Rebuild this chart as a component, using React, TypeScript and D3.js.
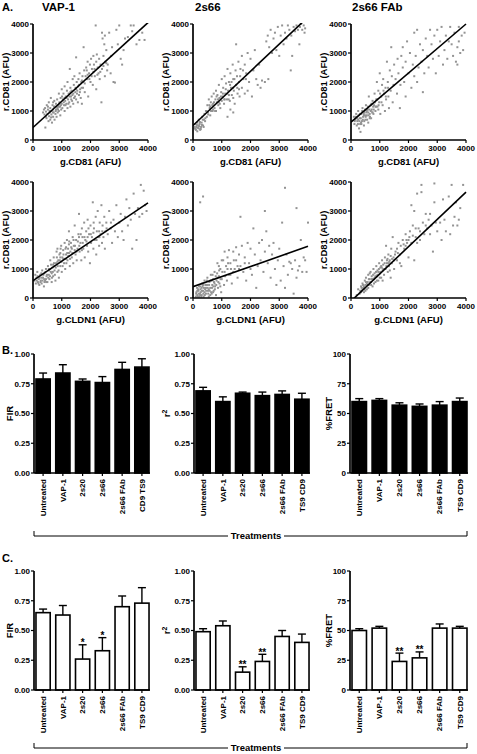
import React from 'react';
import * as d3 from 'd3';

const FONT = '"Liberation Sans", Arial, Helvetica, sans-serif';

// ---------- Scatter data (flat x,y pairs, AFU) ----------
const vap1CD81 = [350,950,380,1050,400,880,420,1100,430,430,450,980,470,750,480,1200,500,900,520,1050,540,650,550,1300,560,820,580,950,600,1100,600,700,620,1450,640,880,650,1000,660,600,680,1200,700,800,700,1050,720,950,740,1350,750,700,760,1150,780,900,800,1250,800,1050,820,800,840,1400,850,1100,860,950,880,1200,900,1000,900,1600,920,1300,940,1150,950,850,960,1450,980,1050,1000,1250,1000,1750,1020,1100,1040,1400,1060,1600,1080,1200,1100,1000,1100,1850,1120,1350,1140,1500,1160,1250,1180,1700,1200,2000,1200,1100,1220,1400,1240,1600,1260,1300,1280,2450,1300,1800,1300,1150,1320,1500,1340,1700,1360,1350,1380,2100,1400,1600,1400,1250,1420,1900,1440,2200,1460,1500,1480,1800,1500,2850,1500,1400,1520,2000,1540,1700,1560,1300,1580,2100,1600,1900,1600,1550,1620,2300,1640,1750,1660,1450,1680,2000,1700,1250,1720,2200,1740,1800,1760,3200,1780,2400,1800,1950,1800,1650,1850,2500,1880,2100,1900,2700,1920,1500,1950,2300,1980,2600,2000,2000,2020,2800,2050,2450,2080,1900,2100,2900,2120,2600,2150,2200,2180,3950,2200,2700,2200,1750,2220,2950,2250,2500,2280,2300,2300,2800,2320,2100,2350,2600,2380,1300,2400,3700,2400,2450,2420,3500,2450,2900,2480,3300,2500,2200,2500,3600,2520,2700,2550,3100,2580,2400,2600,2600,2650,3700,2700,2300,2720,2900,2750,3200,2800,2000,2850,1980,2900,3800,2950,3300,3000,3950,3050,2800,3100,2600,3150,3100,3200,3500,3300,3550,3400,3950,3450,3750,3500,3950,3600,3300,3700,3450,3800,3700,3880,3450,700,1300,900,1150,1100,1450,1300,1650,1500,1750,1700,2050,1900,2250,2100,2350,
  450,800,520,1150,580,1000,630,780,690,950,730,1150,790,1000,830,1150,870,1050,910,1250,970,1200,1010,1500,1070,1300,1130,1200,1170,1450,1230,1250,1270,1500,1330,1400,1370,1550,1430,1450,1470,1650,1530,1600,1570,1850,1630,1650,1690,1800,1750,2000,1830,2200,1870,2400,1960,2100,2040,2200,2140,2450,2240,2250,2340,2350,2450,2550,2550,2650];
const s66CD81 = [50,400,80,550,100,350,120,450,150,600,150,300,180,500,200,400,200,700,230,550,250,350,280,450,300,600,320,800,350,500,380,700,400,900,420,650,450,1000,480,800,500,1200,520,950,550,1400,580,1100,600,850,620,1300,650,1500,680,1000,700,1250,720,1600,750,1100,780,1400,800,1700,800,1000,830,1300,850,1550,880,1200,900,1900,920,1450,950,1100,980,1650,1000,1350,1000,2100,1030,1500,1050,1800,1080,1250,1100,2200,1120,1600,1150,1950,1180,1400,1200,2450,1220,1700,1250,2000,1280,1350,1300,2300,1320,1800,1350,1550,1380,2600,1400,2100,1420,1700,1450,1250,1480,2400,1500,3300,1500,1900,1530,2200,1550,1600,1580,2700,1600,2000,1620,1500,1650,2450,1700,2900,1700,1800,1750,2100,1800,2600,1800,1600,1850,2300,1900,3000,1900,1700,1950,2000,2000,2800,2050,1500,2100,2400,2150,3100,2200,2100,2250,1900,2300,2600,2350,1800,2400,2050,2500,2000,2550,3400,2600,3600,2620,2100,2650,3200,2700,3800,2750,3000,2800,3500,2850,3700,2900,3100,2950,3900,3000,2900,3050,3600,3100,3950,3150,3300,3200,3700,3250,3500,3300,3950,3350,3800,3400,2400,3420,3600,3450,2900,3500,3900,3550,3750,3600,3950,3650,3800,3700,3300,3720,3900,3750,4000,3800,3800,3850,3950,3880,3700,3900,3850,1200,800,1400,950,1300,1050,600,1150,700,1050,900,1300,1100,1400,1250,1550,1400,1450,1600,1750,
  60,450,90,380,130,520,170,420,210,480,240,620,270,380,310,520,340,700,370,450,430,750,470,1000,530,880,570,1200,630,1000,670,1200,730,1300,770,1000,820,1500,870,1400,930,1250,970,1500,1040,1600,1090,1400,1140,1750,1190,1600,1240,1400,1290,1900,1340,2000,1390,1800,1440,2100,1540,1800,1640,2200,1740,2400,1840,2100];
const fabCD81 = [100,800,120,550,150,700,180,900,200,500,220,650,250,1000,280,400,300,750,320,550,330,280,350,900,380,650,400,1100,420,800,450,500,470,950,500,700,520,1200,550,850,580,1050,600,600,620,1500,650,900,680,1200,700,750,720,1050,750,1350,780,900,800,1200,820,1600,850,1000,880,1400,900,2000,920,1150,950,1700,980,1300,1000,2300,1020,900,1050,1500,1080,1900,1100,1200,1120,2100,1150,1600,1180,1000,1200,1800,1220,1400,1250,2700,1280,2000,1300,1500,1320,1100,1350,2400,1380,1700,1400,3200,1420,2200,1450,1300,1480,1900,1500,2600,1550,2100,1600,1600,1620,2800,1650,2300,1700,1100,1720,1900,1750,2900,1800,2500,1800,3200,1850,2000,1900,2700,1900,1500,1950,3400,2000,2300,2050,3000,2100,1800,2150,2600,2200,3700,2200,2200,2250,2900,2300,3800,2300,2000,2350,2500,2400,3300,2450,2700,2500,3100,2500,1650,2550,2300,2600,3500,2650,2900,2700,2500,2750,3800,2800,3300,2850,2800,2900,3600,2950,2300,3000,3800,3050,2900,3100,3400,3150,3900,3200,2600,3250,3100,3300,3600,3350,2800,3400,3400,3450,3900,3500,3300,3550,2900,3600,3700,3650,2700,3700,3200,3750,3400,3800,3000,3850,3600,3900,3100,3950,3700,3700,2600,3750,3900,250,700,350,600,450,850,550,1000,650,750,750,950,850,1150,950,1050,600,950,500,850,
  130,650,170,800,210,750,240,550,260,850,290,650,310,900,340,750,360,550,390,1000,410,700,440,900,460,650,490,1050,510,800,540,950,560,700,590,1150,610,850,640,1050,660,800,690,1000,710,1250,740,950,770,1150,790,1050,830,1300,870,1150,910,1400,960,1200,1010,1600,1060,1300,1130,1700,1210,1500,1290,1800];
const vap1CLDN1 = [50,600,80,800,100,500,120,700,150,900,170,550,200,650,220,450,250,800,270,600,300,500,320,950,350,700,380,400,400,850,420,600,450,1000,470,750,500,550,520,1100,550,800,570,650,600,1300,620,900,650,550,680,1050,700,750,720,1400,750,950,780,600,800,1200,820,1600,850,900,880,1300,900,700,920,1500,950,1100,980,1800,1000,900,1020,1400,1050,1650,1080,1200,1100,1900,1120,1000,1150,1500,1180,2000,1200,1300,1220,1700,1250,2300,1280,1100,1300,1600,1320,1900,1350,1400,1380,2100,1400,1200,1420,1800,1450,2500,1480,1500,1500,2000,1520,1300,1550,1700,1580,2200,1600,2900,1620,1600,1650,1900,1680,1300,1700,2400,1720,2100,1750,1700,1780,2600,1800,1400,1820,2000,1850,2300,1880,1800,1900,2700,1920,1600,1950,2200,1980,1200,2000,2500,2020,1900,2050,2100,2080,3300,2100,1700,2120,2400,2150,2000,2180,2800,2200,1500,2220,2300,2250,3000,2280,2100,2300,1800,2320,2600,2350,2200,2380,3200,2400,1900,2420,2500,2450,2100,2480,2800,2500,1700,2520,2300,2550,2600,2600,2200,2650,3000,2700,2400,2750,1900,2800,2700,2850,2300,2900,3200,2950,2100,3000,2600,3050,2900,3100,2300,3150,2000,3200,2800,3250,3400,3300,2500,3350,3100,3400,2700,3450,1700,3500,3600,3550,2900,3600,2000,3650,3100,3700,2800,3750,3900,3800,2900,3850,3700,3900,3200,3950,3000,600,1000,700,1150,850,1250,950,1400,1050,1350,1150,1750,1250,1550,1350,1700,450,650,550,1000,650,850,750,1100,300,700,400,550,1700,1650,1900,2100,2100,2250,2300,2300,1600,2100,1450,1650,1250,1850,1150,1350,950,1550,850,1700,
  130,600,160,750,190,500,230,700,260,550,290,850,330,600,360,800,390,650,430,900,460,550,490,800,530,700,560,950,590,750,630,1150,660,700,690,900,730,1200,760,800,790,1050,830,1400,860,1100,890,950,930,1300,960,1700,990,1250,1030,1100,1060,1500,1090,1350,1130,1700,1160,1200,1190,1550,1230,1450,1260,1950,1290,1350,1330,1750,1370,1550,1410,2000,1460,1800,1510,1600,1560,1950,1610,1800,1660,2200,1730,1900,1790,2100,1860,1950,1930,2400,2010,2200,2110,2600,2210,2000,2310,2100,2410,2300,2560,2400,2710,2600];
const s66CLDN1 = [100,50,120,200,150,100,180,300,200,150,220,50,250,400,270,200,300,100,320,500,350,250,370,50,400,600,420,300,450,150,470,450,500,700,520,250,550,50,570,550,600,350,620,800,650,150,670,450,700,650,720,250,750,900,770,400,800,100,820,600,850,1200,870,350,900,750,920,500,950,1000,980,200,1000,650,1050,1300,1080,450,1100,900,1150,1100,1180,600,1200,1400,1250,800,1300,1200,1350,500,1400,1600,1450,1000,1500,1300,1500,1750,1550,700,1600,1500,1650,1100,1700,1800,1750,900,1800,1400,1850,600,1900,1900,1950,1200,2000,1700,2050,800,2100,2400,2150,1500,2200,350,2250,1100,2300,1900,2350,1300,2400,2000,2450,900,2500,1600,2550,2300,2600,1200,2650,1800,2700,700,2750,1500,2800,1900,2850,1000,2900,450,2950,1300,3000,1700,3050,600,3100,2600,3150,1100,3200,350,3250,1500,3300,800,3350,1250,3400,1200,3450,1000,3500,150,3550,1300,3600,700,3650,950,3700,1100,3750,2000,3800,900,3850,1400,3900,1300,3950,900,4000,2600,250,3300,350,3500,1650,2800,2500,3000,3200,3800,3600,3100,150,250,250,100,350,450,450,350,550,300,650,600,750,500,850,700,950,400,700,200,600,100,500,450,400,200,300,350,900,1100,1000,1300,1300,800,1400,900,1100,1600,1200,1000,1600,1000,1800,1200,2000,1000,
  110,150,140,350,170,50,190,250,210,400,240,150,260,300,290,50,310,250,330,400,360,150,380,350,410,100,430,450,460,250,480,600,510,350,530,150,560,450,580,250,610,600,630,200,660,350,680,800,710,400,730,550,760,300,790,750,810,450,840,850,880,550,910,950,960,650,1020,900,1120,750,1220,1200,1320,1000,1420,1300,1250,1650,1550,1100];
const fabCLDN1 = [200,100,250,300,300,150,350,400,380,250,400,500,430,350,450,200,480,600,500,450,520,700,550,300,580,550,600,800,620,450,650,650,680,900,700,550,720,750,750,400,780,1000,800,650,820,850,850,550,880,1100,900,750,920,950,950,600,980,1200,1000,850,1020,1050,1050,700,1080,1300,1100,950,1120,1150,1150,800,1180,1400,1200,1000,1220,1800,1250,1200,1280,900,1300,1500,1320,1100,1350,1300,1380,700,1400,1700,1420,1200,1450,2100,1480,1400,1500,1000,1550,1600,1600,1300,1650,1900,1700,1500,1750,1100,1800,2000,1850,1700,1900,2200,1950,1900,2000,1400,2050,2300,2100,1900,2150,2500,2200,3000,2200,1300,2250,2100,2300,3600,2300,1900,2350,2400,2400,2000,2450,3650,2500,2600,2550,2200,2600,2900,2650,2400,2700,2700,2750,2200,2800,2500,2850,1600,2900,3300,2950,2600,3000,2300,3100,2600,3150,2000,3200,3400,3250,2700,3300,2300,3400,3500,3450,2200,3500,3900,3550,2500,3600,2800,3650,3300,3700,2500,3750,2700,3800,3100,3900,3900,2900,3950,2450,3900,2100,3200,400,300,500,250,600,350,700,450,800,500,900,600,1000,700,650,850,750,650,850,750,950,900,1050,1100,1150,1000,1250,1300,1350,950,550,500,450,400,350,200,1500,1300,1600,1700,1700,1200,1900,1800,2000,2000,1100,600,1300,1200,
  320,250,370,350,420,450,470,300,520,550,570,450,620,650,670,550,720,650,770,800,820,700,870,900,920,800,970,1000,1020,900,1070,1050,1120,1000,1170,1200,1230,1100,1270,1350,1330,1250,1380,1450,1430,1350,1530,1500,1630,1550,1730,1800,1830,1850,1930,2000,2030,2100,2150,2150,2250,2400,2400,2300,2600,2500,2750,2900];

// regression lines: [intercept, slope]
const fitVap1CD81 = [430, 0.905];
const fitS66CD81 = [500, 0.935];
const fitFabCD81 = [620, 0.845];
const fitVap1CLDN1 = [600, 0.67];
const fitS66CLDN1 = [390, 0.348];
const fitFabCLDN1 = [-110, 0.94];

const scatterTitles = ['VAP-1', '2s66', '2s66 FAb'];
const scatterTicks = [0, 1000, 2000, 3000, 4000];

// ---------- Bar data ----------
const labelsB1 = ['Untreated', 'VAP-1', '2s20', '2s66', '2s66 FAb', 'CD9 TS9'];
const labels = ['Untreated', 'VAP-1', '2s20', '2s66', '2s66 FAb', 'TS9 CD9'];

const firB = [0.79, 0.84, 0.77, 0.76, 0.87, 0.89];
const firBSem = [0.05, 0.07, 0.02, 0.05, 0.06, 0.07];
const r2B = [0.69, 0.60, 0.67, 0.65, 0.66, 0.62];
const r2BSem = [0.03, 0.04, 0.01, 0.03, 0.03, 0.05];
const fretB = [60, 61, 57, 56, 57, 60];
const fretBSem = [2.5, 1.5, 2, 2, 3, 3];

const firC = [0.65, 0.63, 0.26, 0.33, 0.70, 0.73];
const firCSem = [0.03, 0.08, 0.12, 0.11, 0.09, 0.13];
const r2C = [0.49, 0.54, 0.15, 0.24, 0.45, 0.40];
const r2CSem = [0.025, 0.04, 0.045, 0.06, 0.05, 0.07];
const fretC = [50, 52, 24, 27, 52, 52];
const fretCSem = [1.5, 1.5, 7, 5, 3.5, 1.5];
const starsFirC = ['', '', '*', '*', '', ''];
const starsR2C = ['', '', '**', '**', '', ''];
const starsFretC = ['', '', '**', '**', '', ''];

const fracTicks = [0, 0.25, 0.5, 0.75, 1];
const pctTicks = [0, 25, 50, 75, 100];

const AX = 1.7;

function Scatter({ x0, x1, yTop, yBot, data, fit, xLabel, title, titleX, id }) {
  const x = d3.scaleLinear().domain([0, 4000]).range([x0, x1]);
  const y = d3.scaleLinear().domain([0, 4000]).range([yBot, yTop]);
  const pts = d3.range(0, data.length, 2).map((i) => [data[i], data[i + 1]]);
  const line = d3.line().x((d) => x(d[0])).y((d) => y(d[1]));
  const fitPts = [0, 4000].map((v) => [v, fit[0] + fit[1] * v]);
  const cx = (x0 + x1) / 2;
  const cy = (yTop + yBot) / 2;
  return (
    <g fontFamily={FONT} fontWeight="bold">
      <defs>
        <clipPath id={id}>
          <rect x={x0} y={yTop - 1} width={x1 - x0 + 1} height={yBot - yTop + 1} />
        </clipPath>
      </defs>
      {title && (
        <text x={titleX} y={yTop - 13} fontSize={11.5}>{title}</text>
      )}
      {pts.map((p, i) => (
        <rect key={i} x={x(p[0]) - 1} y={y(p[1]) - 1} width={2} height={2} fill="#939393" />
      ))}
      <path d={line(fitPts)} stroke="#000" strokeWidth={1.6} fill="none" clipPath={`url(#${id})`} />
      <line x1={x0} x2={x0} y1={yTop} y2={yBot} stroke="#000" strokeWidth={AX} />
      <line x1={x0} x2={x1} y1={yBot} y2={yBot} stroke="#000" strokeWidth={AX} />
      {scatterTicks.map((t) => (
        <g key={'y' + t}>
          <line x1={x0 - 3} x2={x0} y1={y(t)} y2={y(t)} stroke="#000" strokeWidth={1.2} />
          <text x={x0 - 4} y={y(t)} dy="0.35em" fontSize={8} textAnchor="end">{t}</text>
        </g>
      ))}
      {scatterTicks.map((t) => (
        <g key={'x' + t}>
          <line x1={x(t)} x2={x(t)} y1={yBot} y2={yBot + 3} stroke="#000" strokeWidth={1.2} />
          <text x={x(t)} y={yBot + 11} fontSize={8} textAnchor="middle">{t}</text>
        </g>
      ))}
      <text x={cx} y={yBot + 25} fontSize={9.5} textAnchor="middle">{xLabel}</text>
      <text transform={`translate(${x0 - 27},${cy}) rotate(-90)`} fontSize={9.5} textAnchor="middle" dy="0.35em">r.CD81 (AFU)</text>
    </g>
  );
}

function BarPanel({ x0, x1, yTop, yBot, cats, means, sems, filled, max, ticks, fmt, yLabel, yLabelX, stars }) {
  const x = d3.scaleBand().domain(cats).range([x0, x1 + 1]).paddingInner(0.28).paddingOuter(0.1);
  const y = d3.scaleLinear().domain([0, max]).range([yBot, yTop]);
  const cy = (yTop + yBot) / 2;
  const bw = x.bandwidth();
  return (
    <g fontFamily={FONT} fontWeight="bold">
      {cats.map((c, i) => {
        const bx = x(c);
        const mid = bx + bw / 2;
        const top = y(means[i]);
        const et = y(means[i] + sems[i]);
        return (
          <g key={c}>
            <line x1={mid} x2={mid} y1={top} y2={et} stroke="#000" strokeWidth={1.4} />
            <line x1={mid - 4} x2={mid + 4} y1={et} y2={et} stroke="#000" strokeWidth={1.4} />
            <rect x={bx} y={top} width={bw} height={yBot - top} fill={filled ? '#000' : '#fff'} stroke="#000" strokeWidth={1.6} />
            {stars && stars[i] && (
              <text x={mid} y={et - 2} fontSize={10} textAnchor="middle" dy="0.35em">{stars[i]}</text>
            )}
            <line x1={mid} x2={mid} y1={yBot} y2={yBot + 3} stroke="#000" strokeWidth={1.2} />
            <text transform={`translate(${mid},${yBot + 6}) rotate(-90)`} fontSize={8} textAnchor="end" dy="0.35em">{c}</text>
          </g>
        );
      })}
      <line x1={x0} x2={x0} y1={yTop} y2={yBot} stroke="#000" strokeWidth={AX} />
      <line x1={x0} x2={x1} y1={yBot} y2={yBot} stroke="#000" strokeWidth={AX} />
      {ticks.map((t) => (
        <g key={t}>
          <line x1={x0 - 3} x2={x0} y1={y(t)} y2={y(t)} stroke="#000" strokeWidth={1.2} />
          <text x={x0 - 4} y={y(t)} dy="0.35em" fontSize={8} textAnchor="end">{fmt(t)}</text>
        </g>
      ))}
      <text transform={`translate(${yLabelX},${cy}) rotate(-90)`} fontSize={9.5} textAnchor="middle" dy="0.35em">
        {yLabel === 'r2' ? (<><tspan>r</tspan><tspan dy="-0.45em" fontSize={7}>2</tspan></>) : yLabel}
      </text>
    </g>
  );
}

function Bracket({ y }) {
  return (
    <g fontFamily={FONT} fontWeight="bold">
      <line x1={34} x2={228} y1={y} y2={y} stroke="#000" strokeWidth={1} />
      <line x1={284} x2={467} y1={y} y2={y} stroke="#000" strokeWidth={1} />
      <line x1={34} x2={34} y1={y - 5} y2={y} stroke="#000" strokeWidth={1} />
      <line x1={467} x2={467} y1={y - 5} y2={y} stroke="#000" strokeWidth={1} />
      <text x={256} y={y} dy="0.35em" fontSize={9.5} textAnchor="middle">Treatments</text>
    </g>
  );
}

const f2 = (v) => v.toFixed(2);
const f0 = (v) => String(v);

export default function App() {
  const cols = [[33, 148], [193, 308], [351, 466]];
  const titleXs = [42, 195, 352];
  const row1 = [vap1CD81, s66CD81, fabCD81];
  const fit1 = [fitVap1CD81, fitS66CD81, fitFabCD81];
  const row2 = [vap1CLDN1, s66CLDN1, fabCLDN1];
  const fit2 = [fitVap1CLDN1, fitS66CLDN1, fitFabCLDN1];
  const barCols = [[34, 150], [194, 310], [350, 468]];
  return (
    <svg width={477} height={754} style={{ position: 'absolute', left: 0, top: 0, background: '#fff' }}>
      <rect width={477} height={754} fill="#fff" />
      <g fontFamily={FONT} fontWeight="bold" fontSize={11}>
        <text x={2} y={11}>A.</text>
        <text x={2} y={354}>B.</text>
        <text x={2} y={562}>C.</text>
      </g>
      {cols.map((c, i) => (
        <Scatter key={'r1' + i} id={'c1' + i} x0={c[0]} x1={c[1]} yTop={24} yBot={140} data={row1[i]} fit={fit1[i]}
          xLabel="g.CD81 (AFU)" title={scatterTitles[i]} titleX={titleXs[i]} />
      ))}
      {cols.map((c, i) => (
        <Scatter key={'r2' + i} id={'c2' + i} x0={c[0]} x1={c[1]} yTop={182} yBot={298} data={row2[i]} fit={fit2[i]}
          xLabel="g.CLDN1 (AFU)" />
      ))}
      <BarPanel x0={barCols[0][0]} x1={barCols[0][1]} yTop={354} yBot={473} cats={labelsB1} means={firB} sems={firBSem}
        filled max={1} ticks={fracTicks} fmt={f2} yLabel="FIR" yLabelX={10} />
      <BarPanel x0={barCols[1][0]} x1={barCols[1][1]} yTop={354} yBot={473} cats={labels} means={r2B} sems={r2BSem}
        filled max={1} ticks={fracTicks} fmt={f2} yLabel="r2" yLabelX={167} />
      <BarPanel x0={barCols[2][0]} x1={barCols[2][1]} yTop={354} yBot={473} cats={labels} means={fretB} sems={fretBSem}
        filled max={100} ticks={pctTicks} fmt={f0} yLabel="%FRET" yLabelX={329} />
      <Bracket y={536} />
      <BarPanel x0={barCols[0][0]} x1={barCols[0][1]} yTop={571} yBot={690} cats={labels} means={firC} sems={firCSem}
        filled={false} max={1} ticks={fracTicks} fmt={f2} yLabel="FIR" yLabelX={10} stars={starsFirC} />
      <BarPanel x0={barCols[1][0]} x1={barCols[1][1]} yTop={571} yBot={690} cats={labels} means={r2C} sems={r2CSem}
        filled={false} max={1} ticks={fracTicks} fmt={f2} yLabel="r2" yLabelX={167} stars={starsR2C} />
      <BarPanel x0={barCols[2][0]} x1={barCols[2][1]} yTop={571} yBot={690} cats={labels} means={fretC} sems={fretCSem}
        filled={false} max={100} ticks={pctTicks} fmt={f0} yLabel="%FRET" yLabelX={329} stars={starsFretC} />
      <Bracket y={748} />
    </svg>
  );
}
